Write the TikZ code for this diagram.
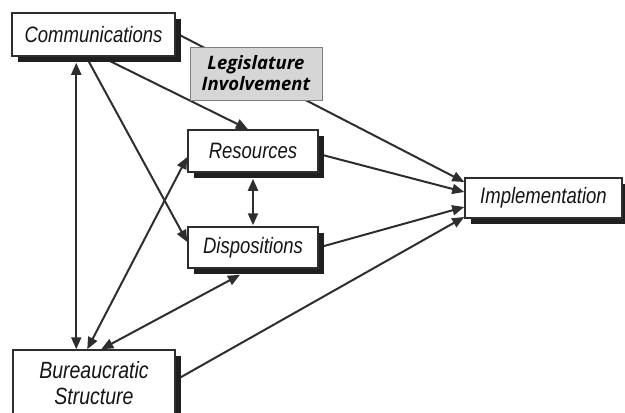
\documentclass[tikz,border=0pt]{standalone}
\usepackage{fontspec}
\setmainfont{Liberation Sans}[FakeStretch=0.83]
\newfontfamily\legfont{Open Sans}
\usetikzlibrary{arrows.meta,calc,shadows}
\definecolor{ink}{HTML}{2E2E2E}
\definecolor{txt}{HTML}{151515}
\definecolor{leggray}{HTML}{D6D6D6}
\definecolor{legline}{HTML}{808080}
\pgfdeclarelayer{bg}
\pgfsetlayers{bg,main}
\tikzset{
  box/.style={draw=ink, line width=1.5pt, fill=white, inner sep=0pt,
    text=txt, font=\fontsize{22.3}{26}\selectfont\itshape, align=center,
    drop shadow={shadow xshift=5.5pt, shadow yshift=-5.5pt, fill=black!88, opacity=1}},
  legbox/.style={draw=legline, line width=0.9pt, fill=leggray, inner sep=0pt,
    text=black, font=\legfont\fontsize{18.5}{21}\selectfont\bfseries\itshape, align=center},
  conn/.style={draw=ink, line width=2pt, -{Triangle[length=12pt,width=10pt]}},
  biconn/.style={conn, {Triangle[length=12pt,width=10pt]}-{Triangle[length=12pt,width=10pt]}}
}
\begin{document}
\begin{tikzpicture}[x=1pt,y=-1pt]
\useasboundingbox (0,0) rectangle (625,413);
\node[box, minimum width=163pt, minimum height=43pt] (comm) at (93.5,34.5) {Communications};
\node[box, minimum width=130pt, minimum height=42pt] (res) at (253,151) {Resources};
\node[box, minimum width=130pt, minimum height=41pt] (disp) at (253,247.5) {Dispositions};
\node[box, minimum width=157pt, minimum height=40pt] (impl) at (543.5,198) {Implementation};
\node[box, minimum width=162pt, minimum height=66pt, font=\fontsize{23.5}{26}\selectfont\itshape] (bur) at (94,383) {Bureaucratic\\Structure};
\begin{pgfonlayer}{bg}
\draw[biconn] ([shift={(65,6)}]comm.south west) -- ([shift={(64,0)}]bur.north west);
\draw[conn] ([shift={(76,2)}]comm.south west) -- ([shift={(0,-5.5)}]disp.west);
\draw[conn] ([shift={(94,2)}]comm.south west) -- ([shift={(-5,0)}]res.north);
\draw[conn] ([shift={(0,-1.5)}]comm.east) -- ([shift={(0,-16)}]impl.west);
\draw[conn] ([shift={(0,3)}]res.east) -- ([shift={(0,-6)}]impl.west);
\draw[conn] (disp.east) -- ([shift={(0,9)}]impl.west);
\draw[conn] ([shift={(5,28)}]bur.north east) -- ([shift={(0,19)}]impl.west);
\draw[biconn] ([shift={(0,6)}]res.south) -- ([shift={(0,-1)}]disp.north);
\draw[biconn] ([shift={(75,0)}]bur.north west) -- ([shift={(0,6)}]res.west);
\draw[biconn] ([shift={(89,0)}]bur.north west) -- ([shift={(-13,6)}]disp.south);
\end{pgfonlayer}
\node[legbox, minimum width=132pt, minimum height=53pt] (leg) at (256,73.5) {Legislature\\Involvement};
\end{tikzpicture}
\end{document}
